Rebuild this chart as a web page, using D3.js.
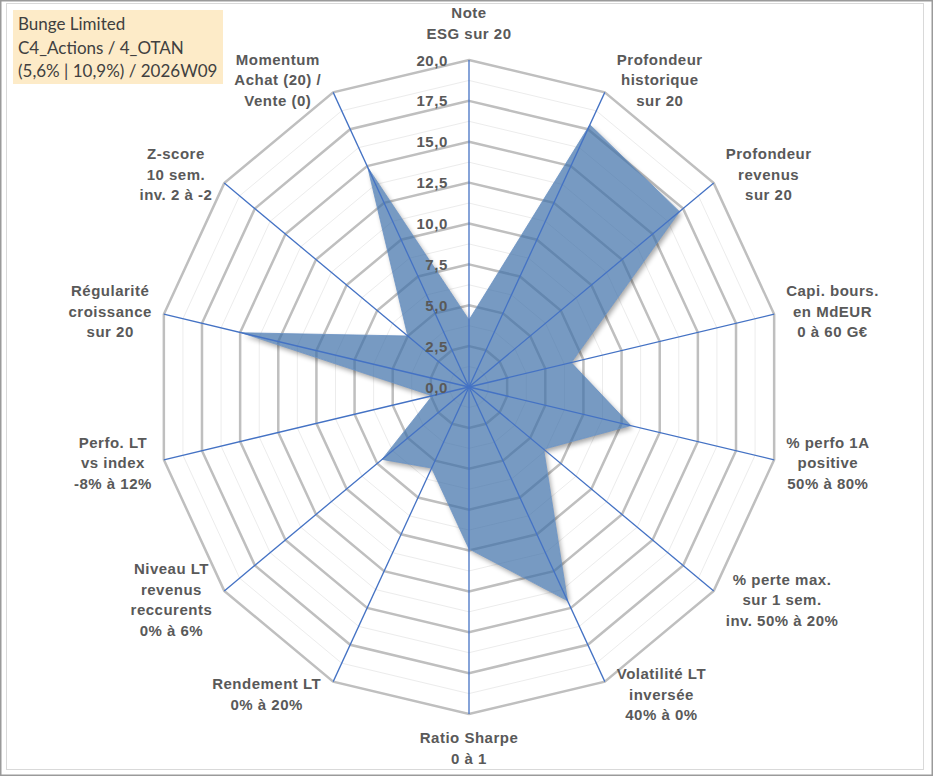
<!DOCTYPE html>
<html>
<head>
<meta charset="utf-8">
<script src="https://cdn.jsdelivr.net/npm/d3@7"></script>
<style>
  body { margin: 0; background: #fff; }
  svg { display: block; }
  .axisLabel { font-family: "Liberation Sans", Arial, sans-serif; font-weight: bold; font-size: 15px; fill: #595959; letter-spacing: 0.5px; }
  .tickLabel { font-family: "Liberation Sans", Arial, sans-serif; font-weight: bold; font-size: 15px; fill: #595959; letter-spacing: 0.6px; }
  .title { font-family: Lato, "Liberation Sans", sans-serif; font-size: 17px; fill: #404040; }
</style>
</head>
<body>
<div id="chart"></div>
<script>
let w = 933;
let h = 776;

// data
let axisLabels = [
    ["Note", "ESG sur 20"],
    ["Profondeur", "historique", "sur 20"],
    ["Profondeur", "revenus", "sur 20"],
    ["Capi. bours.", "en MdEUR", "0 à 60 G€"],
    ["% perfo 1A", "positive", "50% à 80%"],
    ["% perte max.", "sur 1 sem.", "inv. 50% à 20%"],
    ["Volatilité LT", "inversée", "40% à 0%"],
    ["Ratio Sharpe", "0 à 1"],
    ["Rendement LT", "0% à 20%"],
    ["Niveau LT", "revenus", "reccurents", "0% à 6%"],
    ["Perfo. LT", "vs index", "-8% à 12%"],
    ["Régularité", "croissance", "sur 20"],
    ["Z-score", "10 sem.", "inv. 2 à -2"],
    ["Momentum", "Achat (20) /", "Vente (0)"]
];
let values = [4.1, 17.8, 17.2, 6.7, 10.6, 6.1, 14.5, 9.9, 5.5, 7.1, 2.4, 14.9, 5.0, 14.9];
let tickValues = [0, 2.5, 5, 7.5, 10, 12.5, 15, 17.5, 20];
let titleLines = ["Bunge Limited", "C4_Actions / 4_OTAN", "(5,6% | 10,9%) / 2026W09"];

let cx = 469, cy = 387;
let n = axisLabels.length;
let maxV = 20;

let angle = d3.scaleLinear().domain([0, n]).range([0, 2 * Math.PI]);
let rx = d3.scaleLinear().domain([0, maxV]).range([0, 313]);
let ry = d3.scaleLinear().domain([0, maxV]).range([0, 327]);

function px(i, v) { return cx + Math.sin(angle(i)) * rx(v); }
function py(i, v) { return cy - Math.cos(angle(i)) * ry(v); }

let ring = d3.line().curve(d3.curveLinearClosed);
function ringPts(v) { return d3.range(n).map(i => [px(i, v), py(i, v)]); }

let svg = d3.select("#chart").append("svg")
    .attr("width", w)
    .attr("height", h);

let defs = svg.append("defs");
defs.append("filter").attr("id", "blur")
    .attr("x", "-10%").attr("y", "-10%").attr("width", "120%").attr("height", "120%")
    .append("feGaussianBlur").attr("stdDeviation", 2.5);
let mask = defs.append("mask").attr("id", "outside");
mask.append("rect").attr("width", w).attr("height", h).attr("fill", "white");

// frame
svg.append("rect")
    .attr("x", 0.75).attr("y", 0.75)
    .attr("width", w - 1.5).attr("height", h - 1.5)
    .attr("fill", "white")
    .attr("stroke", "#9a9a9a")
    .attr("stroke-width", 1.5);
svg.append("rect")
    .attr("x", 6.5).attr("y", 3.5)
    .attr("width", 917).attr("height", 766)
    .attr("fill", "none")
    .attr("stroke", "#d9d9d9");

// minor rings
svg.append("g").selectAll("path")
    .data(d3.range(1.25, maxV, 2.5))
    .enter()
    .append("path")
    .attr("d", d => ring(ringPts(d)))
    .attr("fill", "none")
    .attr("stroke", "#ececec")
    .attr("stroke-width", 1);

// major rings
svg.append("g").selectAll("path")
    .data(tickValues.filter(d => d > 0))
    .enter()
    .append("path")
    .attr("d", d => ring(ringPts(d)))
    .attr("fill", "none")
    .attr("stroke", "#bfbfbf")
    .attr("stroke-width", 2.5)
    .attr("stroke-linejoin", "miter");

// data polygon with soft shadow outside
let dataPts = values.map((v, i) => [px(i, v), py(i, v)]);
mask.append("path").attr("d", ring(dataPts)).attr("fill", "black");

svg.append("g")
    .attr("mask", "url(#outside)")
    .append("path")
    .attr("d", ring(dataPts))
    .attr("transform", "translate(2,3)")
    .attr("fill", "#000")
    .attr("opacity", 0.35)
    .attr("filter", "url(#blur)");

svg.append("path")
    .attr("d", ring(dataPts))
    .attr("fill", "#3d6fa8")
    .attr("fill-opacity", 0.7)
    .attr("stroke", "#6a92c4")
    .attr("stroke-width", 0.8);

// spokes
svg.append("g").selectAll("line")
    .data(d3.range(n))
    .enter()
    .append("line")
    .attr("x1", cx).attr("y1", cy)
    .attr("x2", i => px(i, maxV))
    .attr("y2", i => py(i, maxV))
    .attr("stroke", "#4472c4")
    .attr("stroke-width", 1.3);

// tick labels along the first axis
let fmt = d => d3.format(".1f")(d).replace(".", ",");
svg.append("g").selectAll("text")
    .data(tickValues)
    .enter()
    .append("text")
    .attr("class", "tickLabel")
    .attr("text-anchor", "end")
    .attr("x", cx - 21)
    .attr("y", d => py(0, d) + 5.5)
    .text(fmt);

// axis labels
let lineH = 20.5;
axisLabels.forEach((lines, i) => {
    let s = Math.sin(angle(i)), c = Math.cos(angle(i));
    let ex = px(i, maxV), ey = py(i, maxV);
    let g = svg.append("g");
    let t = g.append("text").attr("class", "axisLabel").attr("text-anchor", "middle");
    lines.forEach((l, k) => t.append("tspan").attr("x", 0).attr("dy", k ? lineH : 0).text(l));
    let bw = d3.max(t.selectAll("tspan").nodes(), nd => nd.getComputedTextLength());
    let mx, my;
    if (Math.abs(s) < 0.01) {
        mx = ex;
        my = c > 0 ? ey - 37 : ey + 34;
    } else {
        mx = ex + Math.sign(s) * (bw / 2 + 12);
        my = ey - c * 14;
    }
    let firstBase = my - (lines.length - 1) * lineH / 2 + 5.5;
    g.attr("transform", `translate(${mx}, ${firstBase})`);
});

// title box
svg.append("rect")
    .attr("x", 13).attr("y", 10)
    .attr("width", 210).attr("height", 74)
    .attr("fill", "#fdebc8");
svg.append("g").selectAll("text")
    .data(titleLines)
    .enter()
    .append("text")
    .attr("class", "title")
    .attr("x", 18)
    .attr("y", (d, i) => 30 + i * 23.5)
    .text(d => d);
</script>
</body>
</html>
